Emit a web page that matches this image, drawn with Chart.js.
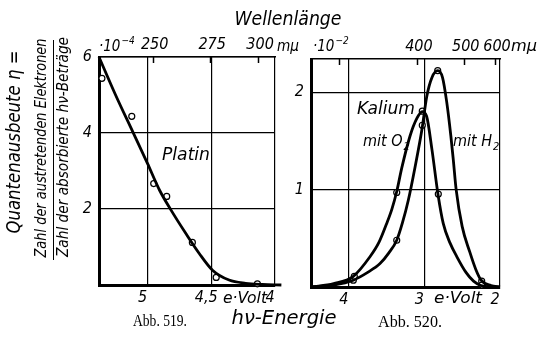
<!DOCTYPE html>
<html>
<head>
<meta charset="utf-8">
<script src="https://cdn.jsdelivr.net/npm/chart.js@4.4.0/dist/chart.umd.min.js"></script>
<style>
  html, body { margin: 0; padding: 0; background: #fff; }
  #wrap { position: relative; width: 542px; height: 340px; }
  #wrap canvas { position: absolute; left: 0; top: 0; }
</style>
</head>
<body>
<div id="wrap">
  <canvas id="platin" width="542" height="340"></canvas>
  <canvas id="kalium" width="542" height="340"></canvas>
</div>
<script>
// Abb. 519: Platin, photon energy in eV, quantum yield in 10^-4
const platinCurveE = [5.38, 5.25, 5.115, 5.0, 4.906, 4.815, 4.70, 4.594, 4.49, 4.36, 4.23, 4.10, 3.95];
const platinCurveY = [6.0, 5.0, 4.03, 3.2, 2.5, 1.97, 1.36, 0.83, 0.39, 0.13, 0.045, 0.015, 0.0];
const platinMeasE = [5.357, 5.123, 4.951, 4.849, 4.648, 4.461, 4.138, 3.95];
const platinMeasY = [5.44, 4.44, 2.67, 2.33, 1.12, 0.20, 0.03, 0.02];

// Abb. 520: Kalium mit O2 / mit H2, quantum yield in 10^-2
const o2CurveE = [4.5, 4.2, 3.94, 3.72, 3.6, 3.5, 3.43, 3.366, 3.3, 3.19, 3.1, 3.03, 2.97, 2.9, 2.82, 2.75, 2.66, 2.57, 2.45, 2.35, 2.25, 2.1, 2.0];
const o2CurveY = [0, 0.035, 0.11, 0.31, 0.46, 0.65, 0.8, 0.98, 1.22, 1.55, 1.73, 1.8, 1.75, 1.41, 0.95, 0.65, 0.45, 0.31, 0.15, 0.06, 0.015, 0.003, 0];
const o2MeasE = [3.927, 3.366, 3.028, 2.816, 2.24];
const o2MeasY = [0.11, 0.97, 1.805, 0.954, 0.02];

const h2CurveE = [4.5, 4.2, 3.94, 3.75, 3.587, 3.47, 3.366, 3.29, 3.213, 3.124, 3.03, 2.97, 2.9, 2.824, 2.76, 2.705, 2.65, 2.617, 2.58, 2.5, 2.4, 2.32, 2.25, 2.12, 2.0];
const h2CurveY = [0, 0.02, 0.07, 0.15, 0.24, 0.35, 0.48, 0.66, 0.89, 1.23, 1.63, 1.95, 2.15, 2.22, 2.15, 1.9, 1.55, 1.3, 1.0, 0.62, 0.36, 0.18, 0.07, 0.015, 0];
const h2MeasE = [3.94, 3.366, 3.028, 2.824, 2.242];
const h2MeasY = [0.07, 0.48, 1.66, 2.22, 0.06];

// tick labels
const platinEnergyTicks = [5, 4.5, 4];
const platinYieldTicks = [2, 4, 6];
const platinWaveTicks = [250, 275, 300];
const platinWaveLabels = ['250', '275', '300'];
const kaliumEnergyTicks = [4, 3, 2];
const kaliumYieldTicks = [1, 2];
const kaliumWaveTicks = [300, 400, 500, 600];
const kaliumWaveLabels = ['', '400', '500', '600'];

const SANS = "'Liberation Sans Narrow', 'DejaVu Sans Condensed', 'Liberation Sans', sans-serif";
const SERIF = "'Liberation Serif', 'DejaVu Serif', serif";

function pts(xs, ys) {
  return xs.map((x, i) => ({ x: x, y: ys[i] }));
}

// draw text squeezed/stretched to a given width, centred on (x, y)
function fitText(ctx, txt, x, y, w, font, rotate) {
  ctx.save();
  ctx.translate(x, y);
  if (rotate) ctx.rotate(-Math.PI / 2);
  ctx.font = font;
  const m = ctx.measureText(txt).width;
  ctx.scale(w / m, 1);
  ctx.textAlign = 'center';
  ctx.textBaseline = 'middle';
  ctx.fillStyle = '#000';
  ctx.fillText(txt, 0, 0);
  ctx.restore();
}

// text with a lowered or raised small part, left edge at x
function textWithIndex(ctx, main, idx, x, y, size, shift) {
  ctx.save();
  ctx.fillStyle = '#000';
  ctx.textAlign = 'left';
  ctx.textBaseline = 'middle';
  ctx.font = 'italic ' + size + 'px ' + SANS;
  ctx.fillText(main, x, y);
  const w = ctx.measureText(main).width;
  ctx.font = 'italic ' + Math.round(size * 0.68) + 'px ' + SANS;
  ctx.fillText(idx, x + w + 1, y + shift);
  ctx.restore();
}

// short marks pointing down from the top edge at the wavelength ticks
const innerTicks = {
  id: 'innerTicks',
  afterDraw(chart) {
    const sc = chart.scales.x2;
    const ctx = chart.ctx;
    ctx.save();
    ctx.strokeStyle = '#000';
    ctx.lineWidth = 1.5;
    sc.ticks.forEach(t => {
      const px = Math.round(sc.getPixelForValue(t.value)) + 0.5;
      ctx.beginPath();
      ctx.moveTo(px, chart.chartArea.top);
      ctx.lineTo(px, chart.chartArea.top + 6);
      ctx.stroke();
    });
    ctx.restore();
  }
};

function waveToEnergy(nm) {
  return 1239.8 / nm;
}

function makeScales(cfg) {
  return {
    x: {
      type: 'linear', reverse: true, min: cfg.eMin, max: cfg.eMax,
      afterBuildTicks: s => { s.ticks = cfg.eTicks.map(v => ({ value: v })); },
      afterFit: s => { s.height = 20; },
      ticks: {
        autoSkip: false, padding: 3, labelOffset: -5, color: '#000',
        font: { family: SANS, size: 16, style: 'italic' },
        callback: v => String(v).replace('.', ',')
      },
      grid: { color: '#000', lineWidth: 1.2, drawTicks: false },
      border: { color: '#000', width: 3 }
    },
    x2: {
      type: 'linear', position: 'top', reverse: true, min: cfg.eMin, max: cfg.eMax,
      afterBuildTicks: s => { s.ticks = cfg.wTicks.map(w => ({ value: waveToEnergy(w) })); },
      afterFit: s => { s.height = 20; },
      ticks: {
        autoSkip: false, padding: 3, labelOffset: 2, color: '#000', maxRotation: 0,
        font: { family: SANS, size: 16, style: 'italic' },
        callback: (v, i) => cfg.wLabels[i]
      },
      grid: { drawOnChartArea: false, drawTicks: false },
      border: { color: '#000', width: 1.5 }
    },
    y: {
      type: 'linear', min: 0, max: cfg.yMax,
      afterBuildTicks: s => { s.ticks = cfg.yTicks.map(v => ({ value: v })); },
      afterFit: s => { s.width = 24; },
      ticks: {
        autoSkip: false, padding: 7, color: '#000',
        font: { family: SANS, size: 16, style: 'italic' }
      },
      grid: { color: '#000', lineWidth: 1.2, drawTicks: false },
      border: { color: '#000', width: 3 }
    }
  };
}

const curveStyle = {
  showLine: true, borderColor: '#000', borderWidth: 2.8, pointRadius: 0,
  cubicInterpolationMode: 'monotone', clip: false
};
const markStyle = {
  showLine: false, pointRadius: 3, pointBackgroundColor: '#fff',
  pointBorderColor: '#000', pointBorderWidth: 1.2, clip: false
};

// labels, axis titles and captions of the whole figure
const figureText = {
  id: 'figureText',
  afterDraw(chart) {
    const ctx = chart.ctx;
    const it = s => 'italic ' + s + 'px ' + SANS;
    fitText(ctx, 'Wellenlänge', 288, 20, 107, it(20));
    fitText(ctx, 'hν-Energie', 284, 319, 105, it(20));
    fitText(ctx, 'Abb. 519.', 160, 322, 54, '16px ' + SERIF);
    fitText(ctx, 'Abb. 520.', 410, 323, 64, '16px ' + SERIF);

    // y axis title as a fraction
    fitText(ctx, 'Quantenausbeute η =', 15, 142, 183, it(20), true);
    fitText(ctx, 'Zahl der austretenden Elektronen', 42, 148, 219, it(16), true);
    fitText(ctx, 'Zahl der absorbierte hν-Beträge', 64, 147, 220, it(16), true);
    ctx.save();
    ctx.strokeStyle = '#000';
    ctx.lineWidth = 1;
    ctx.beginPath();
    ctx.moveTo(53.5, 40);
    ctx.lineTo(53.5, 260);
    ctx.stroke();
    ctx.restore();

    // units on the axes
    textWithIndex(ctx, '·10', '−4', 99, 47, 15, -6);
    textWithIndex(ctx, '·10', '−2', 313, 47, 15, -6);
    fitText(ctx, 'mμ', 288, 47, 22, it(15));
    fitText(ctx, 'mμ', 524, 47, 26, it(15));
    fitText(ctx, 'e·Volt', 245, 299, 44, it(16));
    fitText(ctx, 'e·Volt', 458, 299, 48, it(16));

    // curve names
    fitText(ctx, 'Platin', 186, 155, 48, it(18));
    fitText(ctx, 'Kalium', 386, 109, 58, it(18));
    textWithIndex(ctx, 'mit O', '2', 363, 142, 16, 5);
    textWithIndex(ctx, 'mit H', '2', 453, 142, 16, 5);
  }
};

new Chart(document.getElementById('platin'), {
  type: 'scatter',
  data: {
    datasets: [
      Object.assign({ label: 'Platin', data: pts(platinCurveE, platinCurveY) }, curveStyle),
      Object.assign({ label: 'Platin Messpunkte', data: pts(platinMeasE, platinMeasY) }, markStyle)
    ]
  },
  options: {
    responsive: false, animation: false, devicePixelRatio: 1,
    layout: { padding: { left: 75, right: 267, top: 37, bottom: 35 } },
    plugins: { legend: { display: false }, tooltip: { enabled: false } },
    scales: makeScales({
      eMin: 4.0, eMax: 5.38, eTicks: platinEnergyTicks,
      wTicks: platinWaveTicks, wLabels: platinWaveLabels,
      yMax: 6, yTicks: platinYieldTicks
    })
  },
  plugins: [innerTicks, figureText]
});

new Chart(document.getElementById('kalium'), {
  type: 'scatter',
  data: {
    datasets: [
      Object.assign({ label: 'mit O2', data: pts(o2CurveE, o2CurveY) }, curveStyle),
      Object.assign({ label: 'mit H2', data: pts(h2CurveE, h2CurveY) }, curveStyle),
      Object.assign({ label: 'mit O2 Messpunkte', data: pts(o2MeasE, o2MeasY) }, markStyle),
      Object.assign({ label: 'mit H2 Messpunkte', data: pts(h2MeasE, h2MeasY) }, markStyle)
    ]
  },
  options: {
    responsive: false, animation: false, devicePixelRatio: 1,
    layout: { padding: { left: 287, right: 42, top: 39, bottom: 33 } },
    plugins: { legend: { display: false }, tooltip: { enabled: false } },
    scales: makeScales({
      eMin: 2.0, eMax: 4.5, eTicks: kaliumEnergyTicks,
      wTicks: kaliumWaveTicks, wLabels: kaliumWaveLabels,
      yMax: 2.34, yTicks: kaliumYieldTicks
    })
  },
  plugins: [innerTicks]
});
</script>
</body>
</html>
